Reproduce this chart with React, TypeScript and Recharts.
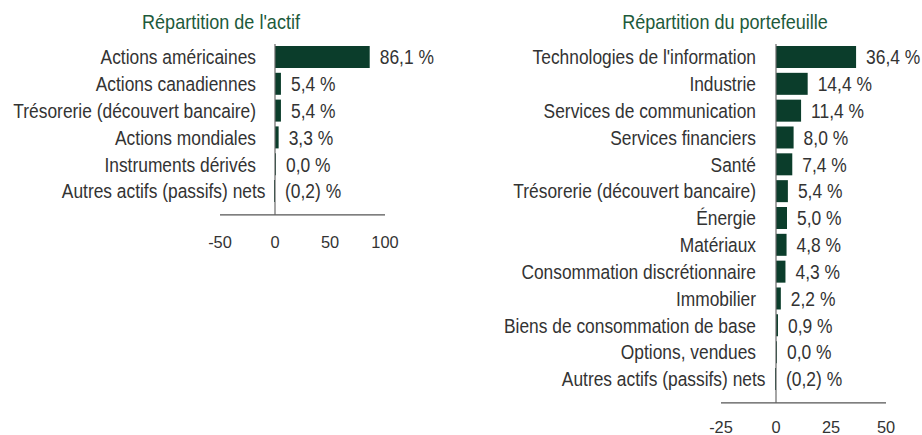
import React from "react";
import { BarChart, Bar, XAxis, YAxis, ReferenceLine, LabelList } from "recharts";

const FONT = "'Liberation Sans', Arial, sans-serif";
const TEXT = "#333333";
const BAR = "#0b3d2b";
const TITLE = "#1d5a3b";

const assetLabels = [
  "Actions américaines",
  "Actions canadiennes",
  "Trésorerie (découvert bancaire)",
  "Actions mondiales",
  "Instruments dérivés",
  "Autres actifs (passifs) nets",
];
const assetValues = [86.1, 5.4, 5.4, 3.3, 0.0, -0.2];
const assetTicks = [-50, 0, 50, 100];

const sectorLabels = [
  "Technologies de l'information",
  "Industrie",
  "Services de communication",
  "Services financiers",
  "Santé",
  "Trésorerie (découvert bancaire)",
  "Énergie",
  "Matériaux",
  "Consommation discrétionnaire",
  "Immobilier",
  "Biens de consommation de base",
  "Options, vendues",
  "Autres actifs (passifs) nets",
];
const sectorValues = [36.4, 14.4, 11.4, 8.0, 7.4, 5.4, 5.0, 4.8, 4.3, 2.2, 0.9, 0.0, -0.2];
const sectorTicks = [-25, 0, 25, 50];

const fmt = (v: number) => {
  const s = Math.abs(v).toFixed(1).replace(".", ",");
  return v < 0 ? `(${s}) %` : `${s} %`;
};

// the source uses a narrow face: draw a taller font squeezed horizontally
function NarrowText(props: { x: number; y: number; size: number; sx: number; anchor: string; children: any }) {
  return (
    <text
      transform={`translate(${props.x} ${props.y}) scale(${props.sx} 1)`}
      x={0}
      y={0}
      dy="0.358em"
      textAnchor={props.anchor as any}
      fill={TEXT}
      fontSize={props.size}
      fontFamily={FONT}
    >
      {props.children}
    </text>
  );
}

function CategoryTick(props: any) {
  const { x, y, payload, index, shift, count } = props;
  const extra = index === count - 1 ? 9.5 : 0;
  return (
    <NarrowText x={x + shift + extra} y={y} size={19.3} sx={0.9} anchor="end">
      {payload.value}
    </NarrowText>
  );
}

function ValueLabel(props: any) {
  const { x, y, width, height, value } = props;
  const right = Math.max(Number(x), Number(x) + Number(width)) + 10;
  return (
    <NarrowText x={right} y={Number(y) + Number(height) / 2} size={20.5} sx={0.85} anchor="start">
      {fmt(Number(value))}
    </NarrowText>
  );
}

function Panel(props: {
  labels: string[];
  values: number[];
  ticks: number[];
  width: number;
  height: number;
  axisWidth: number;
  axisHeight: number;
  right: number;
  shift: number;
  tickGap: number;
}) {
  const data = props.labels.map((name, i) => ({ name, value: props.values[i] }));
  const t = props.ticks;
  return (
    <BarChart
      layout="vertical"
      width={props.width}
      height={props.height}
      data={data}
      margin={{ top: 44, right: props.right, bottom: 0, left: 0 }}
      style={{ overflow: "visible" }}
    >
      <XAxis
        type="number"
        domain={[t[0], t[t.length - 1]]}
        ticks={t}
        height={props.axisHeight}
        tickLine={false}
        tickSize={0}
        tickMargin={props.tickGap}
        axisLine={{ stroke: "#555555", strokeWidth: 1.2 }}
        tick={{ fill: TEXT, fontSize: 16.4, fontFamily: FONT }}
        interval={0}
      />
      <YAxis
        type="category"
        dataKey="name"
        width={props.axisWidth}
        axisLine={false}
        tickLine={false}
        tickSize={0}
        tickMargin={0}
        interval={0}
        padding={{ top: 0, bottom: 10 }}
        tick={<CategoryTick shift={props.shift} count={data.length} />}
      />
      <ReferenceLine x={0} stroke="#6a6a6a" strokeWidth={1.2} />
      <Bar dataKey="value" fill={BAR} barSize={22} minPointSize={1} isAnimationActive={false}>
        <LabelList dataKey="value" content={<ValueLabel />} />
      </Bar>
    </BarChart>
  );
}

const titleStyle: React.CSSProperties = {
  position: "absolute",
  top: 10,
  fontFamily: FONT,
  fontSize: 20.3,
  lineHeight: "24px",
  color: TITLE,
  whiteSpace: "nowrap",
  transform: "translateX(-50%) scaleX(0.89)",
};

export default function App() {
  return (
    <div
      style={{
        position: "absolute",
        left: 0,
        top: 0,
        width: 922,
        height: 435,
        background: "#ffffff",
        overflow: "hidden",
      }}
    >
      <div style={{ ...titleStyle, left: 221 }}>Répartition de l'actif</div>
      <div style={{ ...titleStyle, left: 725 }}>Répartition du portefeuille</div>
      <div style={{ position: "absolute", left: 0, top: 0 }}>
        <Panel
          labels={assetLabels}
          values={assetValues}
          ticks={assetTicks}
          width={480}
          height={255}
          axisWidth={220}
          axisHeight={40.2}
          right={95}
          shift={36}
          tickGap={21.4}
        />
      </div>
      <div style={{ position: "absolute", left: 480, top: 0 }}>
        <Panel
          labels={sectorLabels}
          values={sectorValues}
          ticks={sectorTicks}
          width={442}
          height={435}
          axisWidth={241}
          axisHeight={32.2}
          right={36}
          shift={35}
          tickGap={18.3}
        />
      </div>
    </div>
  );
}
